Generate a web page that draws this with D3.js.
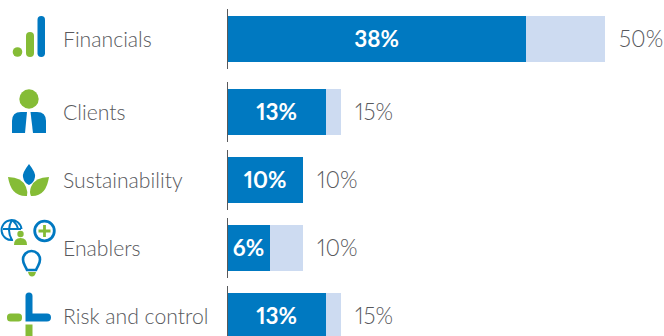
<!DOCTYPE html>
<html><head><meta charset="utf-8">
<script src="https://cdn.jsdelivr.net/npm/d3@7/dist/d3.min.js"></script>
<style>html,body{margin:0;padding:0;background:#fff;overflow:hidden}svg{display:block}text{font-family:Lato,"Open Sans",sans-serif;font-variant-numeric:proportional-nums;font-feature-settings:"pnum" 1}</style>
</head><body><svg id="c" width="664" height="336"></svg>
<script>
const categories = ["Financials","Clients","Sustainability","Enablers","Risk and control"];
const actualLabels = ["38%","13%","10%","6%","13%"];
const targetLabels = ["50%","15%","10%","10%","15%"];
const actualValues = [39.55,13.1,10.05,5.69,13.1];
const targetValues = [50,15.08,10.05,10.05,15.08];

const BLUE="#0079c1", GREEN="#85bc36", LIGHT="#cddbf1", GREY="#58595d";
const svg=d3.select("#c");
const x=d3.scaleLinear().domain([0,50]).range([227,605]);
const y=d3.scaleOrdinal(categories,[39,112,180,248,316]);
const rows=categories.map((c,i)=>({c,a:actualValues[i],t:targetValues[i],al:actualLabels[i],tl:targetLabels[i]}));
const g=svg.selectAll("g.row").data(rows).join("g").attr("class","row");
g.append("rect").attr("x",x(0)).attr("y",d=>y(d.c)-23).attr("height",46).attr("width",d=>Math.round(x(d.t)-x(0))).attr("fill",LIGHT);
g.append("rect").attr("x",x(0)).attr("y",d=>y(d.c)-23).attr("height",46).attr("width",d=>Math.round(x(d.a)-x(0))).attr("fill",BLUE);
g.append("line").attr("x1",x(0)+.5).attr("x2",x(0)+.5).attr("y1",d=>y(d.c)-30).attr("y2",d=>y(d.c)+30).attr("stroke","#58595b").attr("stroke-width",1);
g.append("text").attr("x",63).attr("y",d=>y(d.c)+8).attr("font-size",21.2).attr("font-weight",300).attr("fill",GREY).text(d=>d.c);
g.append("text").attr("x",d=>(x(0)+x(d.a))/2).attr("y",d=>y(d.c)+8).attr("text-anchor","middle").attr("font-size",22.5).attr("font-weight",700).attr("fill","#fff").text(d=>d.al);
g.append("text").attr("x",d=>x(d.t)+14).attr("y",d=>y(d.c)+8).attr("font-size",22.5).attr("font-weight",300).attr("fill",GREY).text(d=>d.tl);

const ic=svg.append("g");
// Financials
ic.append("circle").attr("cx",17.5).attr("cy",52).attr("r",4.8).attr("fill",GREEN);
ic.append("rect").attr("x",26).attr("y",32).attr("width",8).attr("height",25).attr("rx",4).attr("fill",GREEN);
ic.append("rect").attr("x",37.5).attr("y",16).attr("width",7.5).attr("height",41).attr("rx",3.7).attr("fill",BLUE);
// Clients
ic.append("circle").attr("cx",29).attr("cy",99).attr("r",9.7).attr("fill",GREEN);
ic.append("path").attr("fill",BLUE).attr("d","M12 133V121Q12 112 21 112H27L25 133Z");
ic.append("path").attr("fill",BLUE).attr("d","M30.5 112H37Q46 112 46 121V133H33Z");
// Sustainability
ic.append("path").attr("fill",BLUE).attr("d","M29 164Q36 173 35 177Q34 183 29 185Q24 183 23 177Q22 173 29 164Z");
ic.append("path").attr("fill",GREEN).attr("d","M8 177Q22 177 26 187Q28 192 27 196Q11 197 8 177Z");
ic.append("path").attr("fill",GREEN).attr("d","M49 177Q35 177 31 187Q29 192 31 196Q46 197 49 177Z");
// Enablers
ic.append("circle").attr("cx",44.5).attr("cy",231).attr("r",9.8).attr("fill","none").attr("stroke",BLUE).attr("stroke-width",2.8);
ic.append("path").attr("stroke",GREEN).attr("stroke-width",2.8).attr("fill","none").attr("d","M38.5 231H50.5M44.5 225V237");
ic.append("path").attr("fill","none").attr("stroke",BLUE).attr("stroke-width",2).attr("d","M21.5 229A10 10 0 1 0 13 240M3 229H21M12 220Q6 230 12 240M12 220Q17 224 18 229");
ic.append("circle").attr("cx",20.5).attr("cy",234).attr("r",3.2).attr("fill",GREEN);
ic.append("path").attr("fill",GREEN).attr("d","M14 245Q14 238 20.5 238Q27 238 27 245Z");
ic.append("path").attr("fill","none").attr("stroke",BLUE).attr("stroke-width",2.6).attr("d","M27 270C25 265 23 264 23 259.5A8.5 8.5 0 0 1 40 259.5C40 264 38 265 36 270Z");
ic.append("path").attr("fill",GREEN).attr("d","M28 272H36Q35 276.5 32 276.5Q29 276.5 28 272Z");
// Risk and control
ic.append("rect").attr("x",7).attr("y",313.5).attr("width",15).attr("height",8).attr("rx",3.5).attr("fill",GREEN);
ic.append("rect").attr("x",25.5).attr("y",324.5).attr("width",7).attr("height",12).attr("fill",GREEN);
ic.append("path").attr("fill",BLUE).attr("d","M25.5 296A3.5 3.5 0 0 1 32.5 296V313.5H47A4 4 0 0 1 47 321.5H25.5Z");
</script></body></html>
